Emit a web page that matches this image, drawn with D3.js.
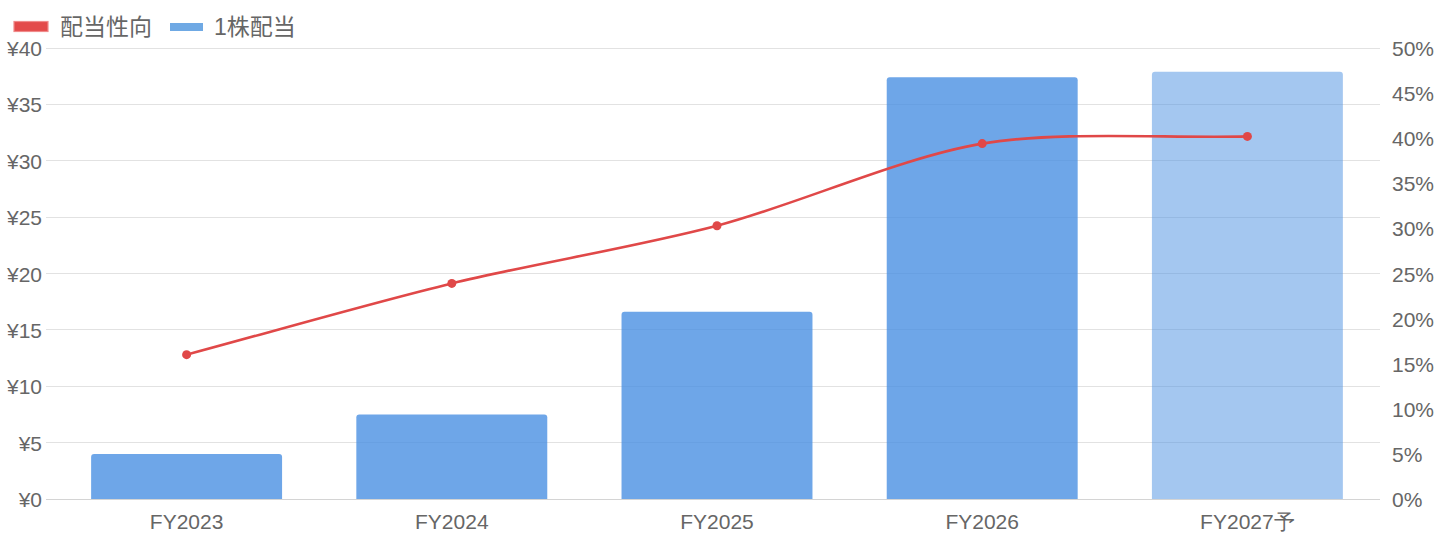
<!DOCTYPE html>
<html>
<head>
<meta charset="utf-8">
<script src="https://cdn.jsdelivr.net/npm/d3@7"></script>
<style>
    body { margin: 0; background: #fff; }
    svg { display: block; font-family: "Liberation Sans", "Noto Sans CJK JP", sans-serif; }
    .tick text { fill: #666; }
</style>
</head>
<body>
<div id="chart"></div>
<script>
// chart values
var categories = ["FY2023", "FY2024", "FY2025", "FY2026", "FY2027予"];
var dividend = [4.0, 7.5, 16.6, 37.4, 37.9];      // 1株配当 (¥)
var payoutRatio = [16.0, 23.9, 30.3, 39.4, 40.2];  // 配当性向 (%)
var forecast = [false, false, false, false, true];
var yenTicks = [0, 5, 10, 15, 20, 25, 30, 35, 40];
var pctTicks = [0, 5, 10, 15, 20, 25, 30, 35, 40, 45, 50];
var legendLabels = ["配当性向", "1株配当"];

var width = 1440, height = 540,
    margin = {top: 48, left: 54, bottom: 41, right: 60},
    tension = 0.3;

var svg = d3.select("#chart").append("svg")
    .attr("width", width)
    .attr("height", height);

var x = d3.scaleBand().domain(categories).range([margin.left, width - margin.right]).padding(0);
var yYen = d3.scaleLinear().domain([0, 40]).range([height - margin.bottom, margin.top]);
var yPct = d3.scaleLinear().domain([0, 50]).range([height - margin.bottom, margin.top]);

// grid lines
svg.append("g")
    .selectAll("line")
    .data(yenTicks)
    .enter().append("line")
    .attr("x1", margin.left - 8)
    .attr("x2", width - margin.right)
    .attr("y1", function (d) { return yYen(d); })
    .attr("y2", function (d) { return yYen(d); })
    .attr("stroke", function (d) { return d === 0 ? "#d4d4d4" : "#e2e2e2"; })
    .attr("stroke-width", 1)
    .attr("shape-rendering", "crispEdges");

// left axis labels
var yLeft = d3.axisLeft(yYen).tickValues(yenTicks).tickSize(0).tickPadding(12)
    .tickFormat(function (d) { return "¥" + d; });
svg.append("g")
    .attr("transform", "translate(" + (margin.left) + ",0)")
    .call(yLeft)
    .call(function (g) { g.select(".domain").remove(); })
    .selectAll("text").attr("font-size", "21px").attr("dy", "0.36em");

// right axis labels
var yRight = d3.axisRight(yPct).tickValues(pctTicks).tickSize(0).tickPadding(12)
    .tickFormat(function (d) { return d + "%"; });
svg.append("g")
    .attr("transform", "translate(" + (width - margin.right) + ",0)")
    .call(yRight)
    .call(function (g) { g.select(".domain").remove(); })
    .selectAll("text").attr("font-size", "21px").attr("dy", "0.36em");

// x axis labels
var xAxis = d3.axisBottom(x).tickSize(0).tickPadding(15);
svg.append("g")
    .attr("transform", "translate(0," + (height - margin.bottom) + ")")
    .call(xAxis)
    .call(function (g) { g.select(".domain").remove(); })
    .selectAll("text").attr("font-size", "21px").attr("dy", "0.71em");

// bars
var barW = x.bandwidth() * 0.72;
var r = 3;
svg.append("g")
    .selectAll("path")
    .data(dividend)
    .enter().append("path")
    .attr("d", function (d, i) {
        var x0 = x(categories[i]) + (x.bandwidth() - barW) / 2,
            x1 = x0 + barW,
            y0 = yYen(0),
            y1 = yYen(d);
        var p = d3.path();
        p.moveTo(x0, y0);
        p.lineTo(x0, y1 + r);
        p.arcTo(x0, y1, x0 + r, y1, r);
        p.lineTo(x1 - r, y1);
        p.arcTo(x1, y1, x1, y1 + r, r);
        p.lineTo(x1, y0);
        p.closePath();
        return p.toString();
    })
    .attr("fill", function (d, i) {
        return forecast[i] ? "rgba(74,144,226,0.5)" : "rgba(74,144,226,0.8)";
    });

// payout ratio line: spline with distance-weighted control points
var pts = payoutRatio.map(function (d, i) {
    return [x(categories[i]) + x.bandwidth() / 2, yPct(d)];
});

function controls(prev, cur, next) {
    var d01 = Math.hypot(cur[0] - prev[0], cur[1] - prev[1]),
        d12 = Math.hypot(next[0] - cur[0], next[1] - cur[1]),
        s01 = d01 / (d01 + d12) || 0,
        s12 = d12 / (d01 + d12) || 0,
        fa = tension * s01,
        fb = tension * s12;
    return {
        before: [cur[0] - fa * (next[0] - prev[0]), cur[1] - fa * (next[1] - prev[1])],
        after: [cur[0] + fb * (next[0] - prev[0]), cur[1] + fb * (next[1] - prev[1])]
    };
}

var ctrl = pts.map(function (p, i) {
    return controls(pts[Math.max(i - 1, 0)], p, pts[Math.min(i + 1, pts.length - 1)]);
});

var path = d3.path();
path.moveTo(pts[0][0], pts[0][1]);
for (var i = 1; i < pts.length; i++) {
    path.bezierCurveTo(ctrl[i - 1].after[0], ctrl[i - 1].after[1],
        ctrl[i].before[0], ctrl[i].before[1], pts[i][0], pts[i][1]);
}

svg.append("path")
    .attr("d", path.toString())
    .attr("fill", "none")
    .attr("stroke", "#e04848")
    .attr("stroke-width", 2.6);

svg.append("g")
    .selectAll("circle")
    .data(pts)
    .enter().append("circle")
    .attr("cx", function (d) { return d[0]; })
    .attr("cy", function (d) { return d[1]; })
    .attr("r", 4.5)
    .attr("fill", "#e04848");

// legend
var legend = svg.append("g").attr("font-size", "23px").attr("fill", "#666");
legend.append("rect")
    .attr("x", 14).attr("y", 21.5).attr("width", 34).attr("height", 10)
    .attr("fill", "#e34a4a").attr("stroke", "#f08a8a").attr("stroke-width", 1.2);
legend.append("text").attr("x", 60).attr("y", 35).text(legendLabels[0])
    .attr("font-family", "'Noto Sans CJK JP', sans-serif");
legend.append("rect")
    .attr("x", 170).attr("y", 23).attr("width", 33).attr("height", 8)
    .attr("fill", "#6fa9e4");
legend.append("text").attr("x", 214).attr("y", 35).text(legendLabels[1])
    .attr("font-family", "'Liberation Sans', 'Noto Sans CJK JP', sans-serif");
</script>
</body>
</html>
